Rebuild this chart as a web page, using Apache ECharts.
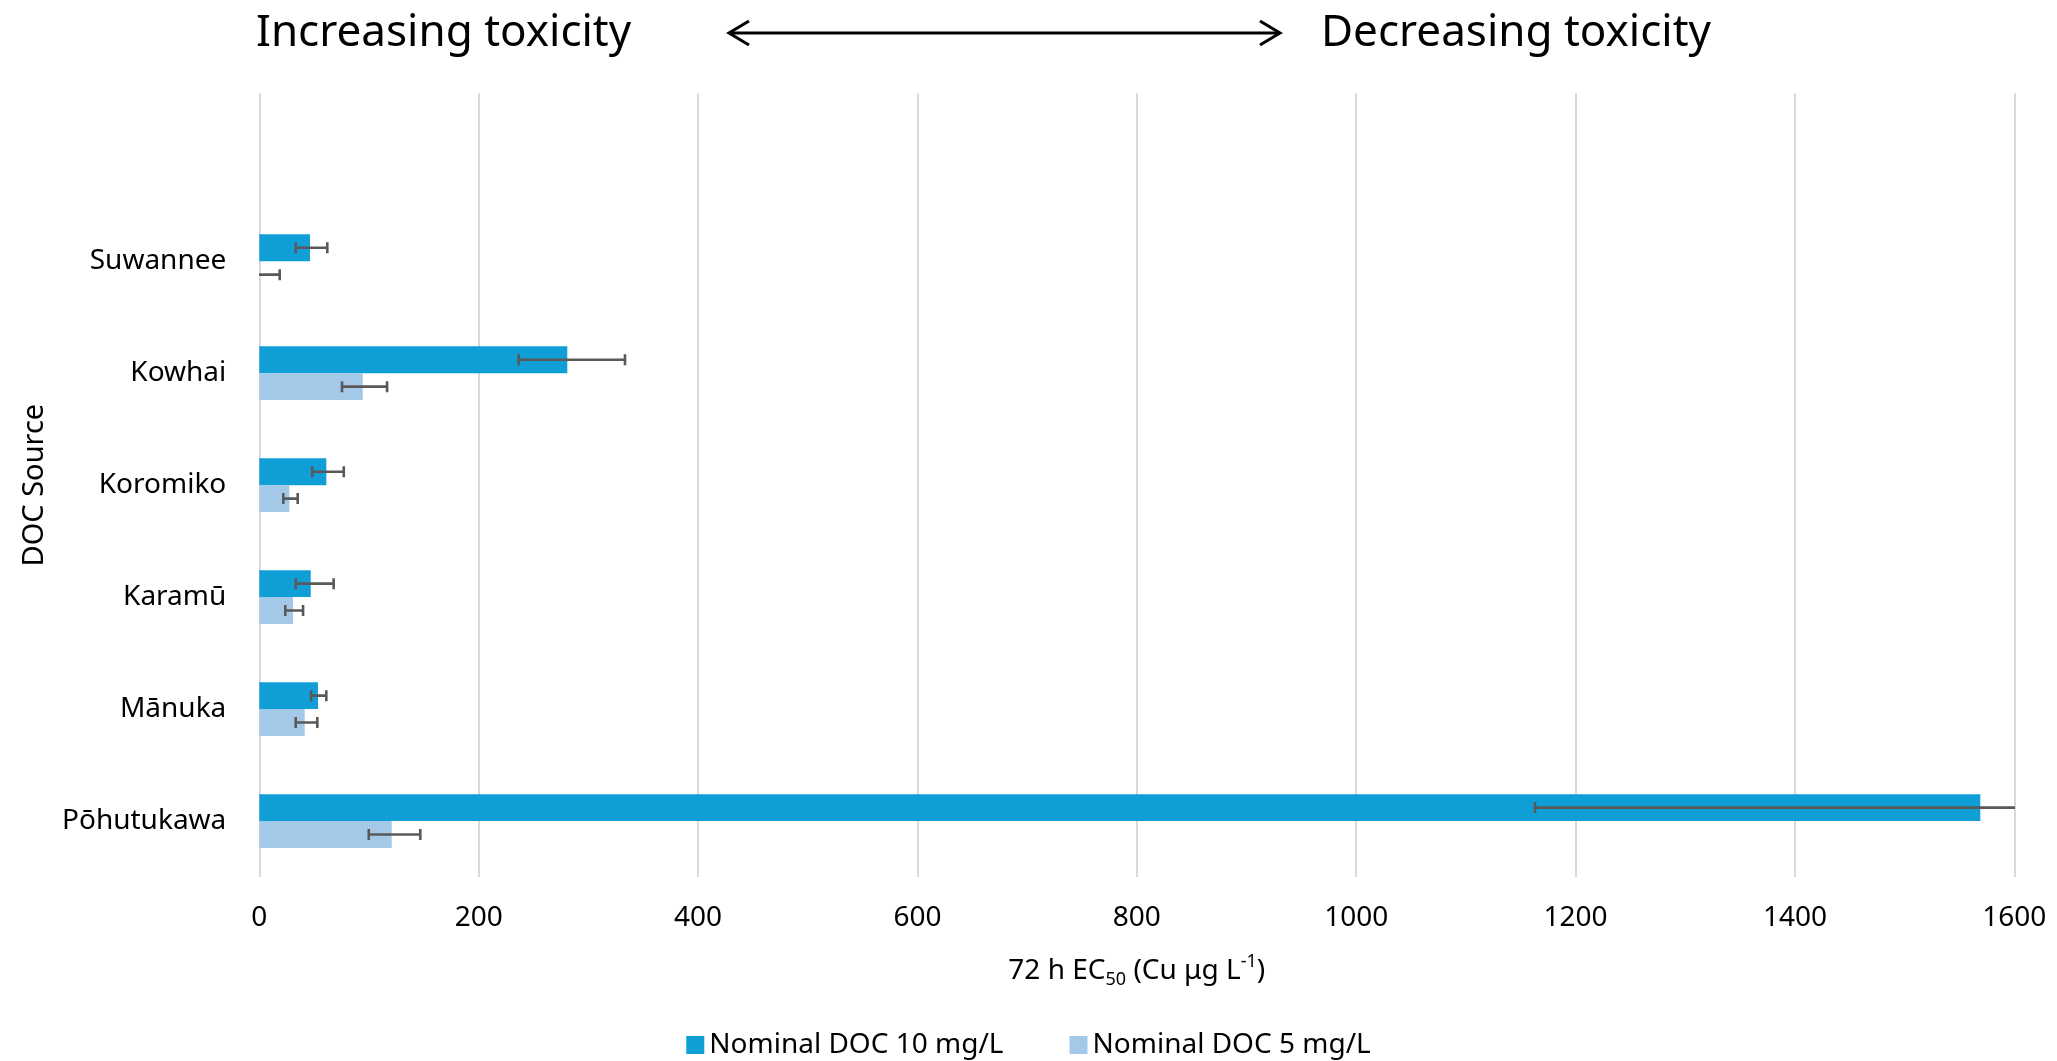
<!DOCTYPE html>
<html>
<head>
<meta charset="utf-8">
<script src="https://cdn.jsdelivr.net/npm/echarts@6/dist/echarts.min.js"></script>
<style>
html,body{margin:0;padding:0;background:#fff;}
#chart{width:2057px;height:1061px;}
</style>
</head>
<body>
<div id="chart"></div>
<script>
// Categories (bottom to top, as ECharts y category axis runs upward); top slot is empty
const categories = ['Pōhutukawa', 'Mānuka', 'Karamū', 'Koromiko', 'Kowhai', 'Suwannee', ''];
const seriesNames = ['Nominal DOC 10 mg/L', 'Nominal DOC 5 mg/L'];
// 72 h EC50 values (Cu µg/L)
const doc10 = [1569, 53.5, 46.9, 61.1, 280.8, 46.2, null];
const doc5  = [120.7, 41.4, 30.7, 27.4, 94.3, 0, null];
// Error bar ends (low, high)
const doc10Low  = [1163, 47.2, 33.2, 48.3, 236.5, 33.2, null];
const doc10High = [1974, 61.1, 67.8, 77.0, 333.4, 62.0, null];
const doc5Low   = [99.8, 33.2, 23.7, 21.9, 75.4, -18.6, null];
const doc5High  = [146.8, 52.9, 39.9, 35.0, 116.5, 18.6, null];
const xTicks = { min: 0, max: 1600, interval: 200 };

const FONT = 'Noto Sans';
const C10 = '#0f9ed5';
const C5 = '#a3c8e8';
const ERR = '#595959';
const GAP = 0.52;

function errData(low, high) {
  const out = [];
  for (let i = 0; i < categories.length; i++) {
    if (low[i] != null) out.push([i, low[i], high[i]]);
  }
  return out;
}

function makeErr(low, high, sign) {
  return {
    type: 'custom',
    clip: true,
    silent: true,
    z: 10,
    data: errData(low, high),
    encode: { y: 0, x: [1, 2] },
    renderItem: function (params, api) {
      const ci = api.value(0);
      const band = api.size([0, 1])[1];
      const bw = band * (1 - GAP) / 2;
      const p1 = api.coord([api.value(1), ci]);
      const p2 = api.coord([api.value(2), ci]);
      const y = p1[1] + sign * bw / 2;
      const cap = 5.5;
      const style = { stroke: ERR, lineWidth: 2.6, fill: null };
      return {
        type: 'group',
        children: [
          { type: 'line', shape: { x1: p1[0], y1: y, x2: p2[0], y2: y }, style: style },
          { type: 'line', shape: { x1: p1[0], y1: y - cap, x2: p1[0], y2: y + cap }, style: style },
          { type: 'line', shape: { x1: p2[0], y1: y - cap, x2: p2[0], y2: y + cap }, style: style }
        ]
      };
    }
  };
}

const chart = echarts.init(document.getElementById('chart'), null, { renderer: 'canvas' });
const option = {
  animation: false,
  backgroundColor: '#fff',
  textStyle: { fontFamily: FONT, color: '#000' },
  grid: { left: 259.3, right: 42.7, top: 93.3, bottom: 184, containLabel: false },
  legend: {
    data: seriesNames,
    bottom: -3,
    left: 'center',
    icon: 'rect',
    itemWidth: 18,
    itemHeight: 18,
    itemGap: 66,
    textStyle: { fontFamily: FONT, fontSize: 28, color: '#000' }
  },
  xAxis: {
    type: 'value',
    min: xTicks.min,
    max: xTicks.max,
    interval: xTicks.interval,
    axisLine: { show: false },
    axisTick: { show: false },
    splitLine: { show: true, lineStyle: { color: '#d9d9d9', width: 2 } },
    axisLabel: { fontFamily: FONT, fontSize: 28, color: '#000', margin: 27, formatter: function (v) { return String(v); } },
    name: '{m|72 h EC}{sub|50}{m| (Cu μg L}{sup|-1}{m|)}',
    nameLocation: 'middle',
    nameGap: 76,
    nameTextStyle: {
      rich: {
        m: { fontFamily: FONT, fontSize: 28, color: '#000', lineHeight: 36, verticalAlign: 'middle' },
        sub: { fontFamily: FONT, fontSize: 18, color: '#000', lineHeight: 18, verticalAlign: 'bottom' },
        sup: { fontFamily: FONT, fontSize: 18, color: '#000', lineHeight: 18, verticalAlign: 'top' }
      }
    }
  },
  yAxis: {
    type: 'category',
    data: categories,
    axisLine: { show: false },
    axisTick: { show: false },
    splitLine: { show: false },
    axisLabel: { fontFamily: FONT, fontSize: 28, color: '#000', margin: 33 },
    name: 'DOC Source',
    nameLocation: 'middle',
    nameGap: 210,
    nameRotate: 90,
    nameTextStyle: { fontFamily: FONT, fontSize: 29, color: '#000' }
  },
  series: [
    {
      name: seriesNames[0],
      type: 'bar',
      data: doc10,
      itemStyle: { color: C10 },
      barGap: '0%',
      barCategoryGap: (GAP * 100) + '%',
      z: 2
    },
    {
      name: seriesNames[1],
      type: 'bar',
      data: doc5,
      itemStyle: { color: C5 },
      barGap: '0%',
      barCategoryGap: (GAP * 100) + '%',
      z: 2
    },
    makeErr(doc10Low, doc10High, -1),
    makeErr(doc5Low, doc5High, 1)
  ],
  graphic: [
    { type: 'text', left: 256, top: 11, style: { text: 'Increasing toxicity', fontFamily: FONT, fontSize: 44, fill: '#000' } },
    { type: 'text', left: 1321, top: 11, style: { text: 'Decreasing toxicity', fontFamily: FONT, fontSize: 44, fill: '#000' } },
    { type: 'line', shape: { x1: 729, y1: 33, x2: 1280, y2: 33 }, style: { stroke: '#000', lineWidth: 3 } },
    { type: 'polyline', shape: { points: [[749, 21], [729, 33], [749, 45]] }, style: { stroke: '#000', lineWidth: 3, fill: null } },
    { type: 'polyline', shape: { points: [[1260, 21], [1280, 33], [1260, 45]] }, style: { stroke: '#000', lineWidth: 3, fill: null } }
  ]
};
chart.setOption(option);
</script>
</body>
</html>
